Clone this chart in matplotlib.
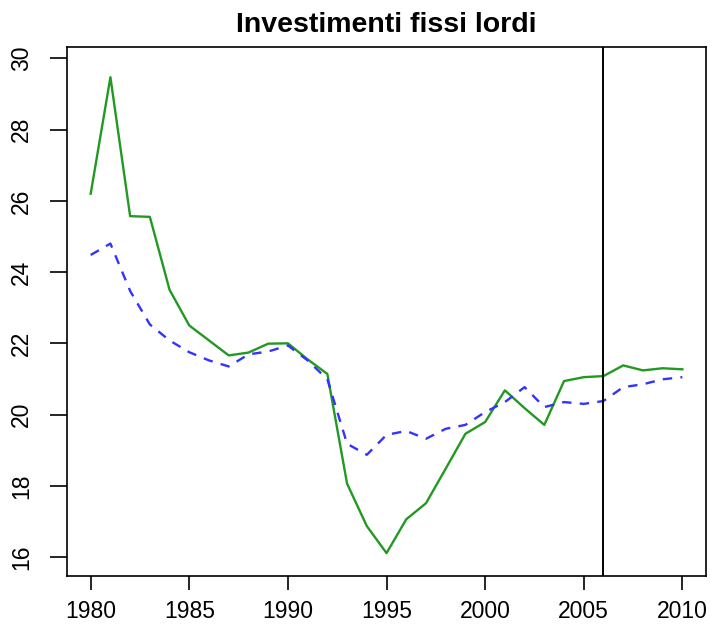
import matplotlib
matplotlib.use("Agg")
import matplotlib.pyplot as plt

# Gross fixed investment (% of GDP) - observed vs fitted
years = list(range(1980, 2011))
observed = [26.2, 29.47, 25.57, 25.55, 23.5, 22.5, 22.08, 21.66, 21.74, 21.99,
            22.0, 21.55, 21.14, 18.06, 16.87, 16.11, 17.06, 17.51, 18.48, 19.46,
            19.79, 20.68, 20.18, 19.71, 20.94, 21.05, 21.08, 21.38, 21.24, 21.3,
            21.27]
fitted = [24.48, 24.8, 23.47, 22.53, 22.08, 21.75, 21.52, 21.35, 21.69, 21.77,
          21.94, 21.52, 20.99, 19.18, 18.87, 19.43, 19.54, 19.32, 19.6, 19.71,
          20.07, 20.35, 20.77, 20.21, 20.35, 20.3, 20.38, 20.77, 20.85, 20.99,
          21.05]
split_year = 2006
x_ticks = [1980, 1985, 1990, 1995, 2000, 2005, 2010]
y_ticks = [16, 18, 20, 22, 24, 26, 28, 30]

plt.rcParams["font.family"] = ["Liberation Sans", "DejaVu Sans"]

fig = plt.figure(figsize=(7.1, 6.26), dpi=100)
ax = fig.add_axes([0.0944, 0.08, 0.9, 0.845])

ax.plot(years, observed, color="#229922", linewidth=1.7)
ax.plot(years, fitted, color="#3333ff", linewidth=1.7, linestyle=(0, (4, 3.5)))
ax.axvline(split_year, color="black", linewidth=1.4)

ax.set_xlim(1978.8, 2011.2)
ax.set_ylim(15.47, 30.32)
ax.set_xticks(x_ticks)
ax.set_yticks(y_ticks)
ax.set_yticklabels([str(v) for v in y_ticks], rotation=90, va="center")
ax.tick_params(axis="y", direction="out", length=12.5, width=1.2,
               labelsize=16.5, pad=12)
ax.tick_params(axis="x", direction="out", length=10, width=1.2,
               labelsize=16.5, pad=7)
for sp in ax.spines.values():
    sp.set_linewidth(1.2)

ax.set_title("Investimenti fissi lordi", fontsize=20.5, fontweight="bold", pad=11)

fig.savefig("out.png", dpi=100)
